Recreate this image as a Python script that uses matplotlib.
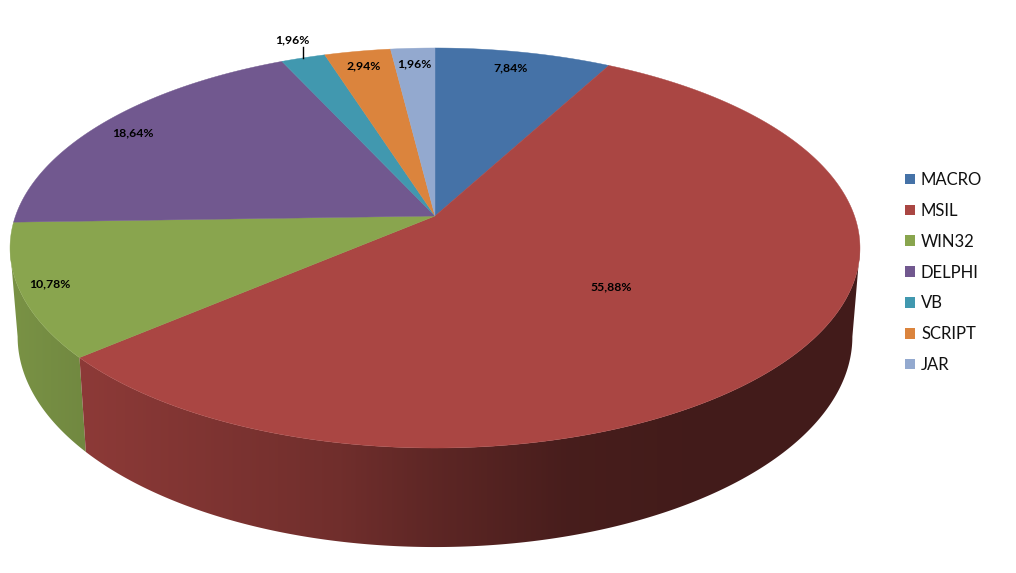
import numpy as np
import matplotlib
matplotlib.use("Agg")
import matplotlib.pyplot as plt
from matplotlib.patches import Patch, Polygon

categories = ["MACRO", "MSIL", "WIN32", "DELPHI", "VB", "SCRIPT", "JAR"]
values = [7.84, 55.88, 10.78, 18.64, 1.96, 2.94, 1.96]
value_labels = ["7,84%", "55,88%", "10,78%", "18,64%", "1,96%", "2,94%", "1,96%"]
colors = ["#4572A7", "#AA4643", "#89A54E", "#71588F", "#4198AF", "#DB843D", "#93A9CF"]

label_xy = [(511, 68), (611, 287), (50, 284), (133, 133), (292, 40), (364, 66), (414, 64)]

W, H = 1016, 573
CX, K = 435.0, 0.16


def rim(theta, a, b, y0):
    """Perspective projection of a disc: theta clockwise from the far side."""
    u, v = np.sin(theta), np.cos(theta)
    d = 1 + K * v
    return CX + a * u / d, y0 - b * v / d


TOP = (419.5, 194.9, 216.0)
BOTTOM = (412.0, 205.0, 303.0)

SHADE_X = [0, 20, 80, 200, 340, 435, 570, 700, 860]
SHADE_F = [0.88, 0.88, 0.83, 0.75, 0.66, 0.55, 0.42, 0.39, 0.39]

fig = plt.figure(figsize=(W / 100, H / 100), dpi=100)
ax = fig.add_axes([0, 0, 1, 1])

edges = np.concatenate([[0], np.cumsum(values)]) / np.sum(values) * 2 * np.pi
xs = np.arange(W) + 0.5
shade = np.interp(xs, SHADE_X, SHADE_F)

# the wall is visible between the two silhouette angles of the projected disc
SIL = np.arccos(-K)

for i in reversed(range(len(colors))):
    col = colors[i]
    lo, hi = max(edges[i], SIL), min(edges[i + 1], 2 * np.pi - SIL)
    if hi <= lo:
        continue
    th = np.linspace(lo, hi, 240)
    xt, yt = rim(th, *TOP)
    xb, yb = rim(th, *BOTTOM)
    pts = np.column_stack([np.r_[xt, xb[::-1]], np.r_[yt, yb[::-1]]])
    base = np.array(matplotlib.colors.to_rgb(col))
    grad = (shade[:, None] * base)[None, :, :]
    im = ax.imshow(grad, extent=(0, W, H, 0), aspect="auto", interpolation="bilinear", zorder=2)
    clip = Polygon(pts, closed=True, transform=ax.transData, facecolor="none", edgecolor="none")
    ax.add_patch(clip)
    im.set_clip_path(clip)

# top surface
for i, col in enumerate(colors):
    th = np.linspace(edges[i], edges[i + 1], max(3, int(np.degrees(edges[i + 1] - edges[i]) * 2)))
    x, y = rim(th, *TOP)
    pts = np.column_stack([np.r_[CX, x], np.r_[TOP[2], y]])
    ax.add_patch(Polygon(pts, closed=True, facecolor=col, edgecolor=col, linewidth=0.3, zorder=3))

for txt, (x, y) in zip(value_labels, label_xy):
    ax.text(x, y, txt, ha="center", va="center", fontsize=8.8, fontweight="bold",
            family="Lato", color="black", zorder=5)

ax.plot([303, 303], [47, 58], color="black", lw=1, zorder=5)

ax.set_xlim(0, W)
ax.set_ylim(H, 0)
ax.axis("off")

handles = [Patch(facecolor=c, edgecolor="none") for c in colors]
leg = ax.legend(handles, categories, loc="upper left", bbox_to_anchor=(905 / W, 1 - 172 / H),
                bbox_transform=fig.transFigure, frameon=False, borderpad=0, borderaxespad=0,
                prop={"family": "Lato", "size": 12}, handlelength=0.6, handleheight=0.6,
                handletextpad=0.36, labelspacing=0.89)
for t in leg.get_texts():
    t.set_color("#111111")

fig.savefig("out.png", dpi=100, facecolor="white")
